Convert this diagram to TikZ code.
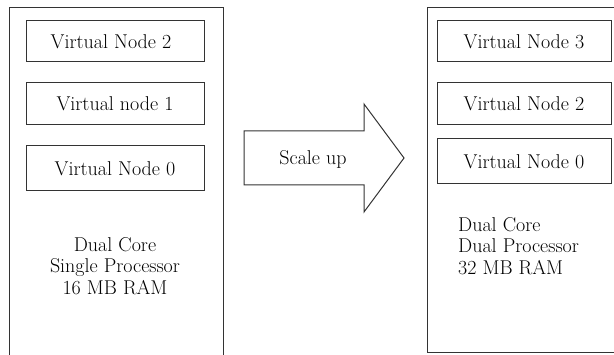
\documentclass[tikz,border=0pt]{standalone}
\begin{document}
\begin{tikzpicture}[x=1pt,y=1pt,
  frame/.style={draw=black!80,line width=1pt},
  vbox/.style={draw=black!80,line width=1pt,rectangle,inner sep=0pt,font=\rmfamily\fontsize{20}{22}\selectfont},
  spec/.style={font=\rmfamily\fontsize{20}{21.5}\selectfont,inner sep=0pt}]
\useasboundingbox (0,0) rectangle (614,354);
% left machine
\draw[frame] (9,-2) -- (9,346) -- (223,346) -- (223,-2);
\node[vbox,minimum width=178pt,minimum height=41pt] (l2) at (115,312.5) {\hspace*{-8pt}Virtual Node 2};
\node[vbox,minimum width=178pt,minimum height=42pt] (l1) at (115,250) {Virtual node 1};
\node[vbox,minimum width=178pt,minimum height=45pt] (l0) at (115,185.5) {Virtual Node 0};
\node[spec,align=center] (lspec) at (115,88) {Dual Core\\Single Processor\\16 MB RAM};
% arrow
\draw[frame,line join=miter] (244,223) -- (364,223) -- (364,250) -- (404,196) -- (364,142) -- (364,169) -- (244,169) -- cycle;
\node[spec] (scale) at (313,195) {Scale up};
% right machine
\draw[frame] (620,346) -- (427,346) -- (427,2) -- (620,2);
\node[vbox,minimum width=174pt,minimum height=41pt] (r3) at (524,312.5) {Virtual Node 3};
\node[vbox,minimum width=174pt,minimum height=42pt] (r2) at (524,250) {Virtual Node 2};
\node[vbox,minimum width=174pt,minimum height=45pt] (r0) at (524,192.5) {Virtual Node 0};
\node[spec,align=left,anchor=west] (rspec) at (458,108) {Dual Core\\Dual Processor\\32 MB RAM};
\end{tikzpicture}
\end{document}
